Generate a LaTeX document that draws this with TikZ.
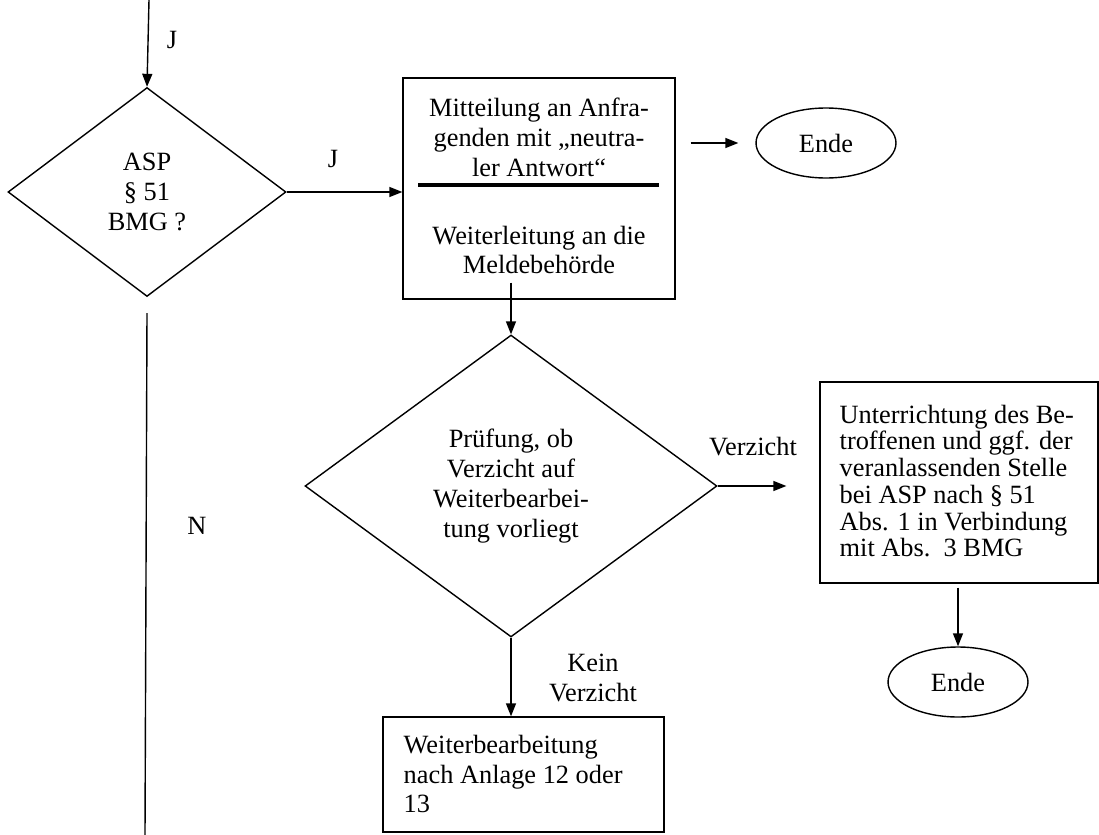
\documentclass[tikz,border=0pt]{standalone}
\usepackage{fontspec}
\setmainfont{Liberation Serif}
\usetikzlibrary{shapes.geometric,arrows.meta}

\begin{document}
\begin{tikzpicture}[x=0.02cm,y=-0.02cm,
	font=\fontsize{15}{17}\selectfont,
	line width=0.8pt,
	arr/.style={-{Triangle[length=0.26cm,width=0.2cm]}},
	frage/.style={diamond,draw,inner sep=0pt,align=center},
	kasten/.style={rectangle,draw,inner sep=0pt},
	ende/.style={ellipse,draw,inner sep=0pt,minimum width=2.8cm,minimum height=1.4cm}]
	% page frame
	\useasboundingbox (0,0) rectangle (1099,835);
	% question ASP
	\coordinate (start) at (149,0);
	\node[frage,minimum width=5.56cm,minimum height=4.18cm] (asp) at (147,192) {ASP\\§ 51\\BMG ?};
	\draw[arr] (start) -- (asp.north);
	\node (jtop) at (172,40) {J};
	% box with the two steps
	\node[kasten,minimum width=5.44cm,minimum height=4.42cm] (mitteil) at (539,188.5) {};
	\node[align=center] (mitteiltxt) at (539,137) {Mitteilung an Anfra-\\genden mit „neutra-\\ler Antwort“};
	\node[align=center] (weiterltxt) at (539,250) {Weiterleitung an die\\Meldebehörde};
	\draw[line width=1.8pt] (418,185) -- (659,185);
	\draw[arr] (asp.east) -- (asp.east -| mitteil.west);
	\node (jright) at (333,159) {J};
	% first end
	\node[ende] (ende1) at (826,143) {Ende};
	\draw[arr] ([xshift=0.3cm]mitteil.east |- ende1) -- ([xshift=-0.34cm]ende1.west);
	% question Verzicht
	\node[frage,minimum width=8.24cm,minimum height=6.04cm] (pruef) at (511,486) {Prüfung, ob\\Verzicht auf\\Weiterbearbei-\\tung vorliegt};
	\draw[arr] ([yshift=0.34cm]pruef.north |- mitteil.south) -- (pruef.north);
	% Verzicht
	\node[kasten,minimum width=5.56cm,minimum height=4.02cm] (unterr) at (959,482.5) {};
	\node[anchor=west,align=left,inner sep=0pt,font=\fontsize{15}{15.2}\selectfont] (unterrtxt) at (839,481)
		{Unterrichtung des Be-\\troffenen und ggf. der\\veranlassenden Stelle\\bei ASP nach § 51\\Abs. 1 in Verbindung\\mit Abs.\ \ 3 BMG};
	\draw[arr] (pruef.east) -- ([xshift=-0.66cm]pruef.east -| unterr.west);
	\node (verz) at (753,447) {Verzicht};
	\node[ende] (ende2) at (958,682) {Ende};
	\draw[arr] ([yshift=-0.08cm]unterr.south -| ende2) -- (ende2.north);
	% kein Verzicht
	\node[kasten,minimum width=5.62cm,minimum height=2.3cm] (weiter) at (523.5,774.5) {};
	\node[anchor=west,align=left,inner sep=0pt] (weitertxt) at (403,774) {Weiterbearbeitung\\nach Anlage 12 oder\\13};
	\draw[arr] (pruef.south) -- (pruef.south |- weiter.north);
	\node[align=center] (kein) at (593,678) {Kein\\Verzicht};
	% branch N
	\coordinate (nend) at (145,835);
	\draw ([yshift=-0.32cm]asp.south) -- (nend);
	\node (nlabel) at (197,526) {N};
\end{tikzpicture}
\end{document}
